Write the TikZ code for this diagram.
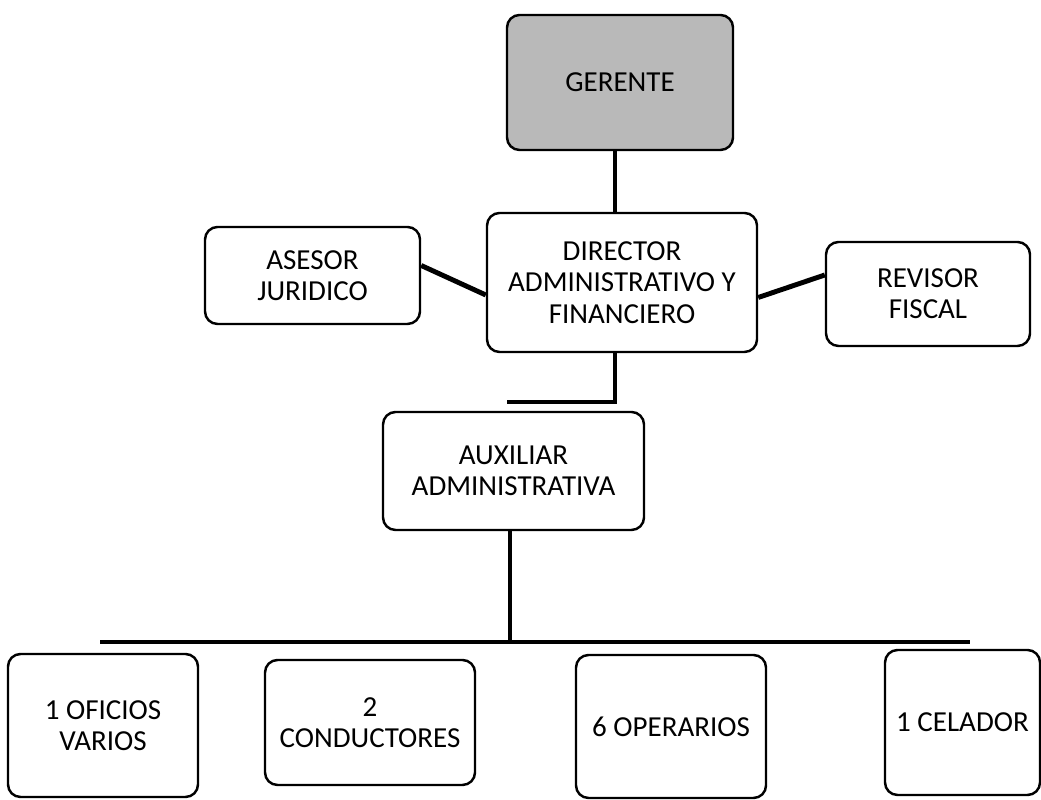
\documentclass[tikz,border=0pt]{standalone}
\usepackage{fontspec}
\setmainfont{Carlito}
\begin{document}
\begin{tikzpicture}[
    cargo/.style={draw, line width=1.4pt, rounded corners=0.25cm, align=center,
      inner sep=2pt, font=\fontsize{16.5}{17.8}\selectfont},
    enlace/.style={line width=2.8pt},
    bus/.style={line width=1.8pt}]
  \useasboundingbox (0,0) rectangle (20.82,16);
  %top boxes
  \node[cargo, fill=gray!55, minimum width=4.52cm, minimum height=2.7cm] (ger)
        at (12.4,14.35) {GERENTE};
  \node[cargo, minimum width=5.4cm, minimum height=2.78cm] (dir)
        at (12.44,10.35) {DIRECTOR\\ADMINISTRATIVO Y\\FINANCIERO};
  \node[cargo, minimum width=4.3cm, minimum height=1.94cm] (ase)
        at (6.25,10.49) {ASESOR\\JURIDICO};
  \node[cargo, minimum width=4.08cm, minimum height=2.08cm] (rev)
        at (18.56,10.12) {REVISOR\\FISCAL};
  \node[cargo, minimum width=5.22cm, minimum height=2.36cm] (aux)
        at (10.27,6.58) {AUXILIAR\\ADMINISTRATIVA};
  %bottom boxes
  \node[cargo, minimum width=3.8cm, minimum height=2.86cm] (ofi)
        at (2.06,1.49) {1 OFICIOS\\VARIOS};
  \node[cargo, minimum width=4.2cm, minimum height=2.5cm] (con)
        at (7.4,1.55) {2\\CONDUCTORES};
  \node[cargo, minimum width=3.8cm, minimum height=2.86cm] (ope)
        at (13.42,1.47) {6 OPERARIOS};
  \node[cargo, minimum width=3.1cm, minimum height=2.9cm] (cel)
        at (19.25,1.55) {1 CELADOR};
  %free ends
  \coordinate (paso) at (10.14,7.96);
  \coordinate (busL) at (2.0,3.16);
  \coordinate (busR) at (19.4,3.16);
  %connectors
  \draw[enlace] (ger.south -| 12.3,0) -- (dir.north -| 12.3,0);
  \draw[enlace] ([yshift=0.2cm]ase.east) -- ([yshift=-0.25cm]dir.west);
  \draw[enlace] ([yshift=-0.3cm]dir.east) -- ([yshift=0.38cm]rev.west);
  \draw[bus] (dir.south -| 12.3,0) -- (12.3,7.96) -- (paso);
  \draw[bus] (aux.south -| 10.2,0) -- (busL -| 10.2,0);
  \draw[bus] (busL) -- (busR);
\end{tikzpicture}
\end{document}
